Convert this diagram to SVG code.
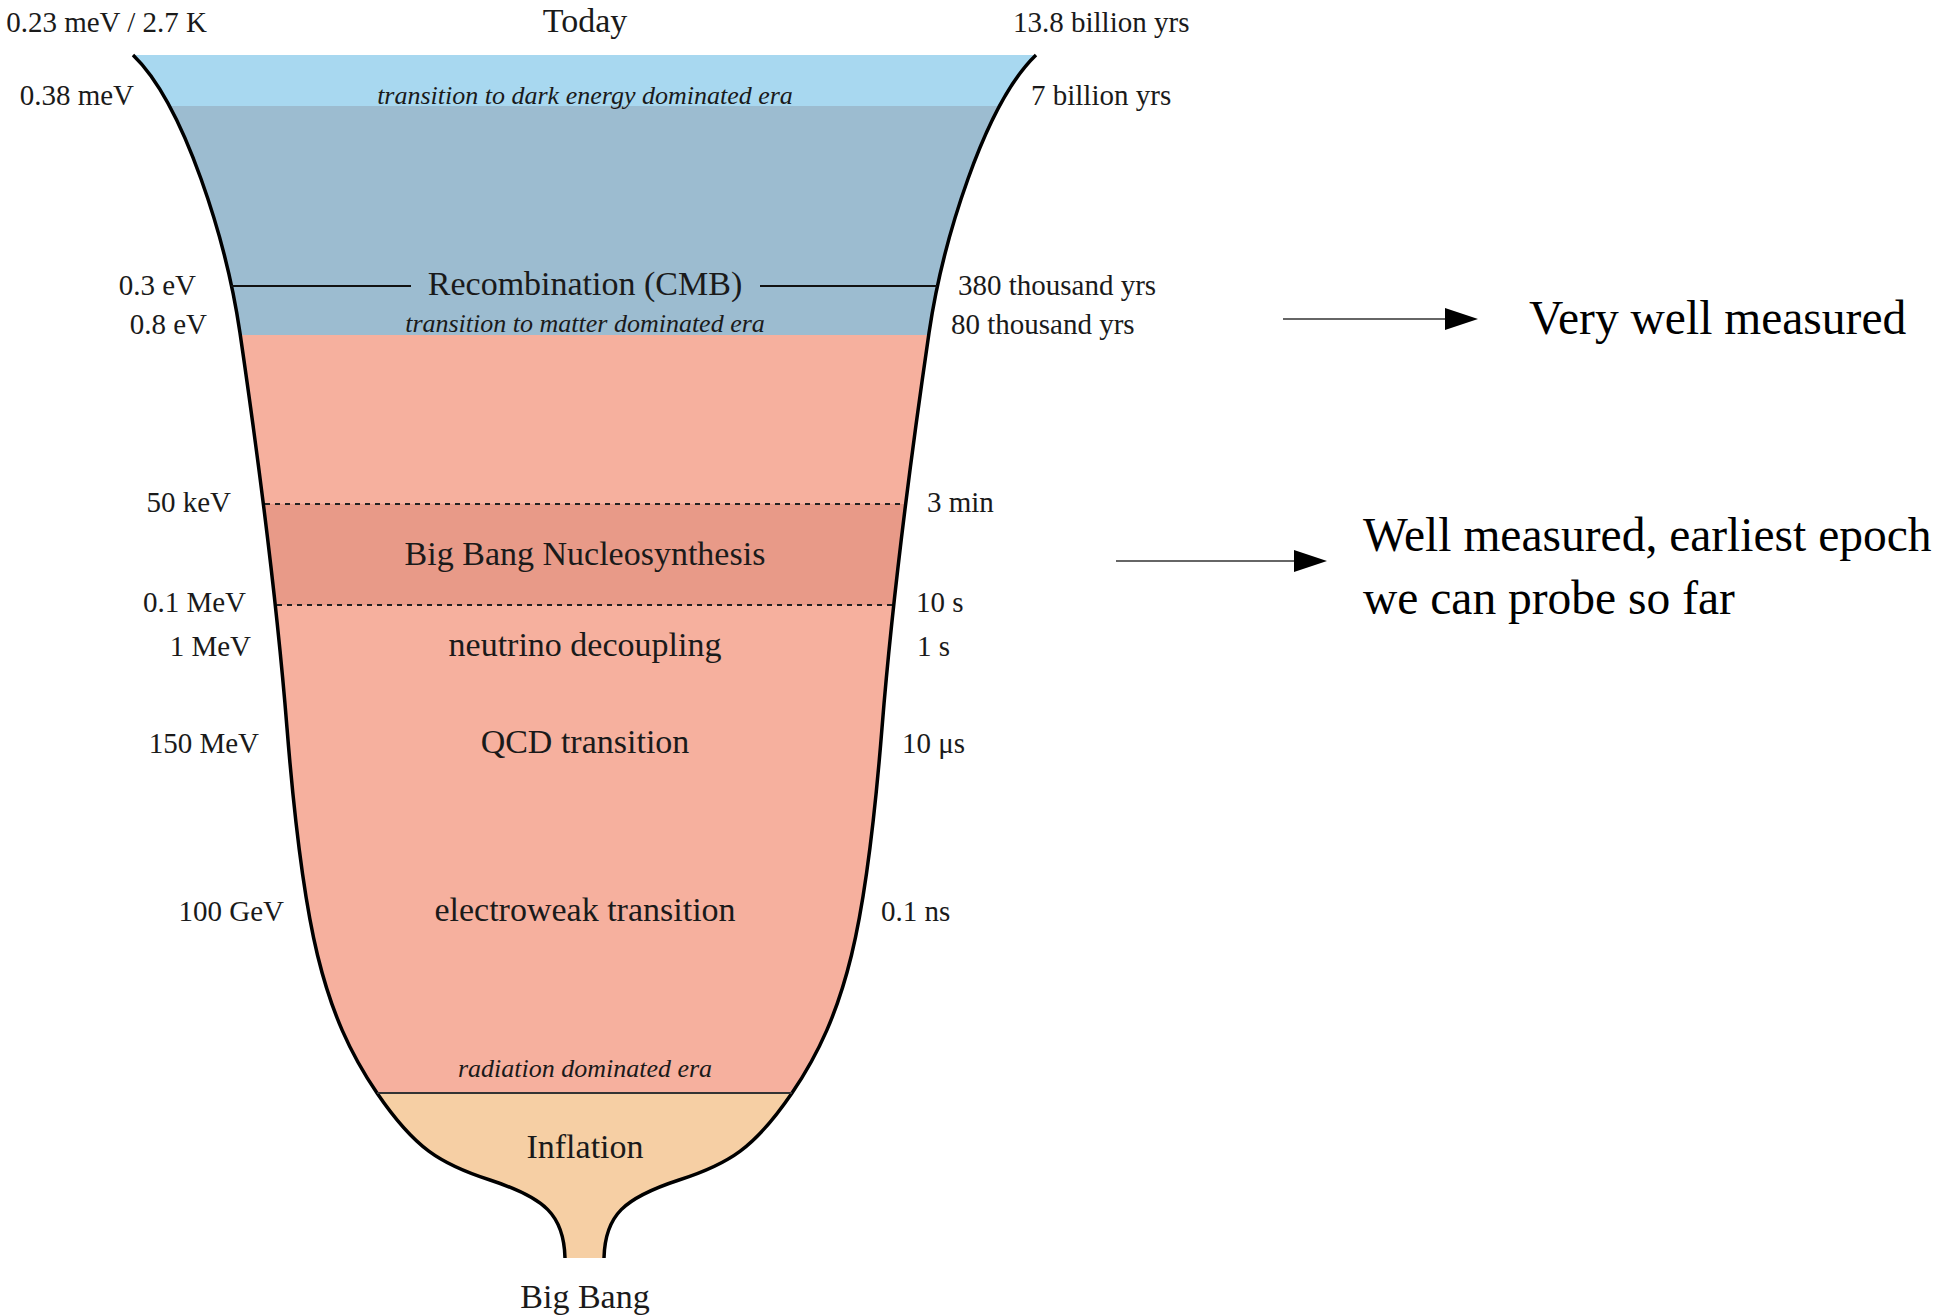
<svg xmlns="http://www.w3.org/2000/svg" width="1959" height="1316" viewBox="0 0 1959 1316">
<style>
  text { font-family: "Liberation Serif", "Times New Roman", serif; fill: #1a1a1a; }
  .sm { font-size: 29px; }
  .big { font-size: 34px; }
  .it { font-size: 26px; font-style: italic; }
  .mid { text-anchor: middle; }
  .end { text-anchor: end; }
  .note { font-size: 47.5px; fill: #000; }
  .edge { fill: none; stroke: #000; stroke-width: 3.5; }
  .dot { stroke: #222; stroke-width: 2; stroke-dasharray: 5 5; }
  .arrow { stroke: #666; stroke-width: 2; fill: none; }
</style>
<defs>
  <clipPath id="funnel">
    <path d="M133,55 C185,105 226.8,243 240,333 C259,463 276.6,598 287,728 C303,928 322.6,1013 377,1093 C414.4,1148 440,1164 490,1180 C545,1198 564,1215 565,1258 L604,1258 C605,1215 624,1198 679,1180 C729,1164 754.6,1148 792,1093 C846.4,1013 866,928 882,728 C892.4,598 910,463 929,333 C942.2,243 984,105 1036,55 Z"/>
  </clipPath>
  <marker id="head" viewBox="0 0 33 22" refX="0" refY="11" markerWidth="33" markerHeight="22" markerUnits="userSpaceOnUse" orient="auto">
    <path d="M0,0 L33,11 L0,22 Z" fill="#000"/>
  </marker>
</defs>

<g id="bands" clip-path="url(#funnel)">
  <rect id="dark-energy-band" x="100" y="55" width="970" height="51" fill="#A8D8F0"/>
  <rect id="matter-band" x="100" y="106" width="970" height="229" fill="#9CBCD0"/>
  <rect id="radiation-band" x="100" y="335" width="970" height="758" fill="#F6B09E"/>
  <rect id="bbn-band" x="100" y="504" width="970" height="101" fill="#E89A88"/>
  <rect id="inflation-band" x="100" y="1093" width="970" height="165" fill="#F6CFA4"/>
</g>

<g id="funnel-outline">
  <path class="edge" d="M133,55 C185,105 226.8,243 240,333 C259,463 276.6,598 287,728 C303,928 322.6,1013 377,1093 C414.4,1148 440,1164 490,1180 C545,1198 564,1215 565,1258"/>
  <path class="edge" d="M1036,55 C984,105 942.2,243 929,333 C910,463 892.4,598 882,728 C866,928 846.4,1013 792,1093 C754.6,1148 729,1164 679,1180 C624,1198 605,1215 604,1258"/>
</g>

<g id="dividers">
  <line x1="231" y1="286" x2="411" y2="286" stroke="#111" stroke-width="2"/>
  <line x1="760" y1="286" x2="937" y2="286" stroke="#111" stroke-width="2"/>
  <line class="dot" x1="265" y1="504" x2="904" y2="504"/>
  <line class="dot" x1="277" y1="605" x2="892" y2="605"/>
  <line x1="377" y1="1093" x2="792" y2="1093" stroke="#333" stroke-width="2"/>
</g>

<g id="today">
  <text class="sm end" x="207" y="32">0.23 meV / 2.7 K</text>
  <text class="big mid" x="585" y="32">Today</text>
  <text class="sm" x="1013" y="32">13.8 billion yrs</text>
</g>
<g id="dark-energy">
  <text class="sm end" x="134" y="105">0.38 meV</text>
  <text class="it mid" x="585" y="104">transition to dark energy dominated era</text>
  <text class="sm" x="1031" y="105">7 billion yrs</text>
</g>
<g id="recombination">
  <text class="sm end" x="196" y="295">0.3 eV</text>
  <text class="big mid" x="585" y="295">Recombination (CMB)</text>
  <text class="sm" x="958" y="295">380 thousand yrs</text>
</g>
<g id="matter-transition">
  <text class="sm end" x="207" y="334">0.8 eV</text>
  <text class="it mid" x="585" y="332">transition to matter dominated era</text>
  <text class="sm" x="951" y="334">80 thousand yrs</text>
</g>
<g id="bbn">
  <text class="sm end" x="231" y="512">50 keV</text>
  <text class="sm" x="927" y="512">3 min</text>
  <text class="big mid" x="585" y="565">Big Bang Nucleosynthesis</text>
  <text class="sm end" x="246" y="612">0.1 MeV</text>
  <text class="sm" x="916" y="612">10 s</text>
</g>
<g id="neutrino-decoupling">
  <text class="sm end" x="251" y="656">1 MeV</text>
  <text class="big mid" x="585" y="656">neutrino decoupling</text>
  <text class="sm" x="917" y="656">1 s</text>
</g>
<g id="qcd-transition">
  <text class="sm end" x="259" y="753">150 MeV</text>
  <text class="big mid" x="585" y="753">QCD transition</text>
  <text class="sm" x="902" y="753">10 μs</text>
</g>
<g id="electroweak-transition">
  <text class="sm end" x="284" y="921">100 GeV</text>
  <text class="big mid" x="585" y="921">electroweak transition</text>
  <text class="sm" x="881" y="921">0.1 ns</text>
</g>
<g id="radiation-era">
  <text class="it mid" x="585" y="1077">radiation dominated era</text>
</g>
<g id="inflation">
  <text class="big mid" x="585" y="1158">Inflation</text>
</g>
<g id="big-bang">
  <text class="big mid" x="585" y="1308">Big Bang</text>
</g>

<g id="note-very-well">
  <text class="note" x="1529" y="334">Very well measured</text>
</g>
<g id="note-well">
  <text class="note" x="1363" y="551">Well measured, earliest epoch</text>
  <text class="note" x="1363" y="614">we can probe so far</text>
</g>

<g id="connectors">
  <line class="arrow" x1="1283" y1="319" x2="1445" y2="319" marker-end="url(#head)"/>
  <line class="arrow" x1="1116" y1="561" x2="1294" y2="561" marker-end="url(#head)"/>
</g>
</svg>
